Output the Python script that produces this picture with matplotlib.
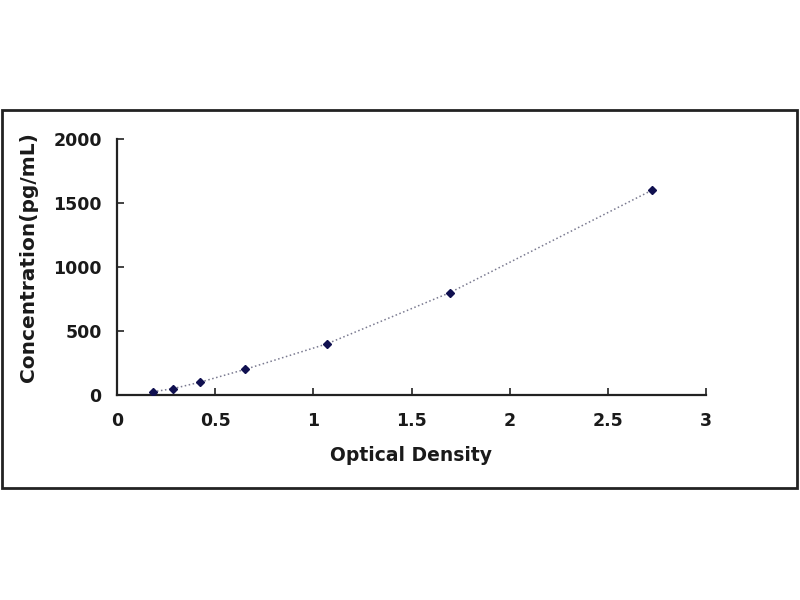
import matplotlib
matplotlib.use("Agg")
import matplotlib.pyplot as plt
from matplotlib.patches import Rectangle

# standard curve data
od = [0.183, 0.286, 0.423, 0.652, 1.07, 1.696, 2.725]
conc = [25, 50, 100, 200, 400, 800, 1600]

xticks = [0, 0.5, 1, 1.5, 2, 2.5, 3]
xticklabels = ["0", "0.5", "1", "1.5", "2", "2.5", "3"]
yticks = [0, 500, 1000, 1500, 2000]

plt.rcParams["font.family"] = "DejaVu Sans"
plt.rcParams["font.weight"] = "bold"

fig = plt.figure(figsize=(8, 6), dpi=100)

# outer frame around the chart
fig.patches.append(Rectangle((2 / 800, 1 - 488 / 600), 795 / 800, 378 / 600,
                             transform=fig.transFigure, fill=False,
                             edgecolor="#222222", linewidth=2))

ax = fig.add_axes([117 / 800, 1 - 395 / 600, 589 / 800, 256 / 600])
ax.plot(od, conc, color="#7a7a90", linewidth=1.1, linestyle=":",
        marker="D", markersize=4, markerfacecolor="#101050",
        markeredgecolor="#101050", zorder=3)

ax.set_xlim(0, 3)
ax.set_ylim(0, 2000)
ax.set_xticks(xticks)
ax.set_xticklabels(xticklabels)
ax.set_yticks(yticks)

for s in ["top", "right"]:
    ax.spines[s].set_visible(False)
for s in ["left", "bottom"]:
    ax.spines[s].set_linewidth(1.6)
    ax.spines[s].set_color("#222222")

ax.tick_params(direction="in", length=5, width=1.2, color="#222222",
               labelsize=12.5, labelcolor="#1a1a1a")
ax.tick_params(axis="y", pad=11)
ax.tick_params(axis="x", pad=12)
for lab in ax.get_xticklabels() + ax.get_yticklabels():
    lab.set_fontweight("bold")

ax.set_xlabel("Optical Density", fontsize=13.5, fontweight="bold",
              color="#1a1a1a", labelpad=12)
ax.set_ylabel("Concentration(pg/mL)", fontsize=14.5, fontweight="bold",
              color="#1a1a1a")
ax.yaxis.set_label_coords(-0.134, 0.537)

fig.savefig("out.png", dpi=100)
